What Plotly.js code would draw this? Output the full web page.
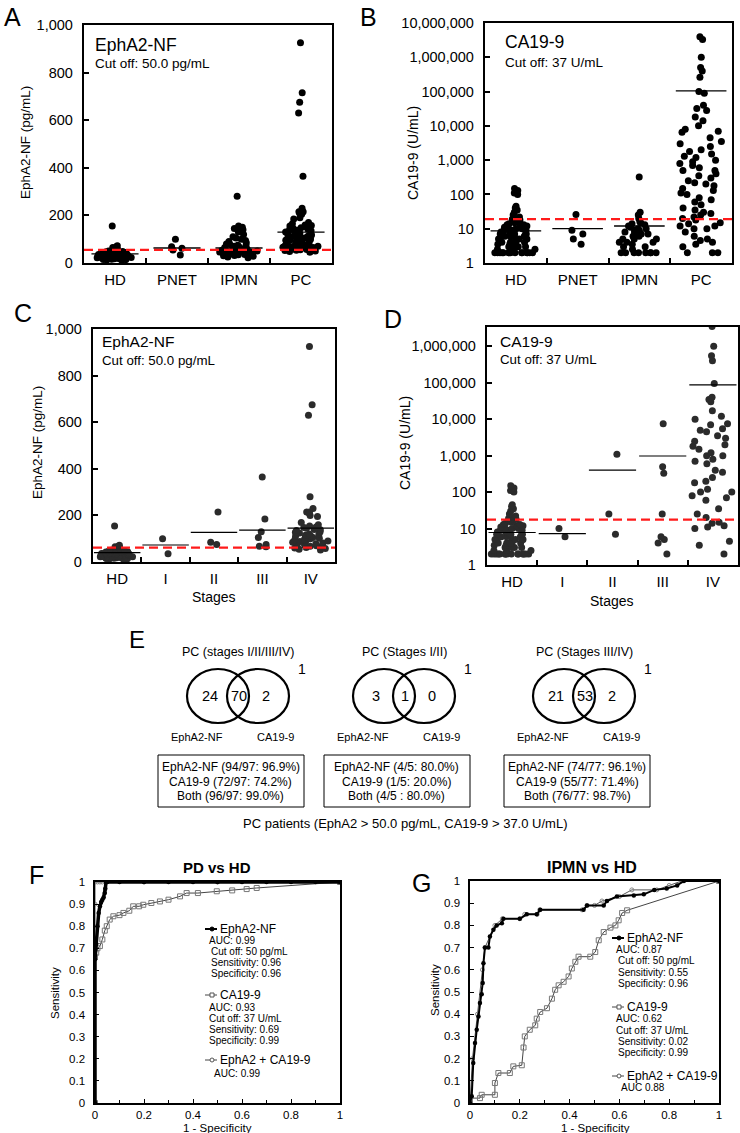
<!DOCTYPE html>
<html><head><meta charset="utf-8">
<script src="https://cdn.plot.ly/plotly-3.0.1.min.js"></script>
<style>body{margin:0;padding:0;background:#fff}#chart{width:740px;height:1133px}</style>
</head><body><div id="chart"></div>
<script>
// ---------------- DATA ----------------
const groupsAB = ['HD', 'PNET', 'IPMN', 'PC'];
const stagesCD = ['HD', 'I', 'II', 'III', 'IV'];

// EphA2-NF (pg/mL)
const ephHD = [155, 72, 68, 65, 60, 58, 55, 52, 50, 48, 47, 45, 44, 43, 42, 41, 40, 40, 39, 38, 38, 37, 36, 36, 35, 35, 34, 34, 33, 33, 32, 32, 31, 31, 30, 30, 30, 29, 29, 28, 28, 27, 27, 26, 26, 25, 25, 24, 24, 23, 23, 22, 22, 21, 21, 20, 20, 19, 18, 18, 17, 16, 15, 14, 13, 12];
const ephPNET = [100, 68, 62, 55, 34];
const ephIPMN = [280, 155, 150, 145, 140, 130, 120, 110, 105, 100, 95, 90, 85, 80, 78, 75, 72, 70, 68, 65, 62, 60, 58, 56, 55, 54, 52, 50, 48, 46, 45, 44, 42, 40, 38, 36, 35, 33, 32, 30, 28, 25, 22];
const ephPC = [925, 715, 675, 630, 365, 230, 215, 215, 210, 205, 190, 185, 170, 165, 160, 158, 155, 150, 148, 145, 142, 140, 138, 135, 132, 130, 128, 125, 122, 120, 118, 115, 112, 110, 108, 105, 102, 100, 98, 96, 95, 92, 90, 88, 86, 85, 82, 80, 78, 76, 75, 73, 72, 70, 68, 66, 65, 63, 62, 60, 58, 57, 56, 55, 54, 52, 50, 48, 45];
const ephStageI = [100, 35];
const ephStageII = [215, 85, 75];
const ephStageIII = [365, 185, 130, 105, 75, 68, 65];
const ephStageIV = [925, 675, 630, 280, 230, 215, 215, 210, 200, 195, 170, 160, 155, 150, 148, 145, 140, 138, 135, 130, 128, 125, 120, 118, 115, 112, 110, 108, 105, 102, 100, 98, 95, 92, 90, 88, 85, 82, 80, 78, 75, 72, 70, 68, 65, 62, 60, 58, 55, 52];

// CA19-9 (U/mL)
const caHD = [150, 130, 110, 100, 45, 40, 35, 30, 25, 22, 20, 19, 18, 17, 16, 15, 14, 13, 13, 12, 12, 11, 11, 10, 10, 10, 9, 9, 9, 8, 8, 8, 7, 7, 7, 7, 6, 6, 6, 6, 5, 5, 5, 5, 5, 4, 4, 4, 4, 4, 3.5, 3.5, 3, 3, 3, 3, 2.5, 2.5, 2.5, 2, 2, 2, 2, 2, 2, 2, 2, 2, 2, 2, 2, 2, 2, 2];
const caPNET = [26, 9, 7, 5, 3.5];
const caIPMN = [320, 30, 25, 20, 16, 15, 14, 13, 12, 11, 10, 10, 9, 9, 8, 8, 7, 7, 6, 6, 5, 5, 5, 4, 4, 4, 3.5, 3, 3, 2.5, 2, 2, 2, 2, 2, 2, 2, 2];
const caPC = [4000000, 3300000, 1000000, 500000, 400000, 260000, 100000, 90000, 40000, 32000, 28000, 18000, 14000, 10000, 8000, 7000, 6500, 4500, 3500, 3000, 2500, 2000, 1800, 1500, 1300, 1200, 1000, 900, 800, 700, 600, 500, 500, 400, 350, 300, 250, 220, 200, 180, 150, 130, 110, 100, 80, 70, 60, 50, 40, 35, 30, 28, 25, 22, 20, 18, 15, 14, 12, 12, 10, 10, 8, 6, 5, 4.5, 4, 3.5, 3, 2, 2, 2];
const caStageI = [10, 6];
const caStageII = [1100, 25, 7];
const caStageIII = [7500, 500, 330, 25, 6, 5, 4, 2];
const caStageIV = [3500000, 1000000, 550000, 400000, 95000, 40000, 35000, 30000, 17000, 12000, 10000, 7500, 7000, 5500, 5000, 4500, 3500, 3000, 2500, 2000, 1800, 1500, 1200, 1000, 1000, 800, 700, 600, 400, 350, 250, 200, 180, 120, 100, 100, 80, 70, 60, 35, 25, 20, 15, 14, 12, 11, 10, 4.5, 3.5, 2];

// medians and cut-off lines as drawn
const medianA = [38, 63, 63, 130];
const medianB = [8.7, 10, 12, 105000];
const medianC = [40, 73, 127, 137, 145];
const medianD = [7.8, 7.3, 400, 980, 88000];
const cutA = 55, cutB = 19, cutC = 62, cutD = 17.5;

// ROC curves: PD vs HD
const fEphX = [0, 0, 0.005, 0.01, 0.015, 0.02, 0.025, 0.03, 0.035, 0.04, 0.042, 0.045, 0.05, 0.1, 0.2, 0.3, 0.4, 0.5, 0.6, 0.7, 0.8, 0.9, 1];
const fEphY = [0, 0.65, 0.72, 0.8, 0.86, 0.89, 0.91, 0.92, 0.93, 0.95, 0.97, 1, 1, 1, 1, 1, 1, 1, 1, 1, 1, 1, 1];
const fCaX = [0, 0, 0.005, 0.01, 0.02, 0.03, 0.04, 0.048, 0.06, 0.075, 0.1, 0.116, 0.14, 0.156, 0.18, 0.197, 0.23, 0.265, 0.3, 0.347, 0.374, 0.42, 0.497, 0.56, 0.619, 0.66, 1];
const fCaY = [0, 0.66, 0.68, 0.7, 0.71, 0.74, 0.78, 0.8, 0.83, 0.845, 0.85, 0.86, 0.87, 0.89, 0.89, 0.897, 0.905, 0.912, 0.92, 0.935, 0.95, 0.95, 0.958, 0.962, 0.968, 0.973, 1];
const fBothX = [0, 0, 0, 0.01, 0.02, 0.03, 0.2, 0.5, 1];
const fBothY = [0, 0.9, 1, 1, 1, 1, 1, 1, 1];

// ROC curves: IPMN vs HD
const gEphX = [0, 0.007, 0.013, 0.02, 0.027, 0.034, 0.04, 0.047, 0.051, 0.054, 0.06, 0.074, 0.08, 0.094, 0.107, 0.128, 0.134, 0.2, 0.228, 0.268, 0.282, 0.456, 0.47, 0.537, 0.55, 0.59, 0.658, 0.698, 0.74, 0.79, 0.832, 0.859, 1];
const gEphY = [0, 0.03, 0.18, 0.27, 0.33, 0.39, 0.45, 0.49, 0.54, 0.63, 0.7, 0.7, 0.75, 0.78, 0.8, 0.81, 0.83, 0.83, 0.85, 0.85, 0.87, 0.87, 0.89, 0.89, 0.91, 0.93, 0.935, 0.94, 0.96, 0.966, 0.98, 1, 1];
const gCaX = [0, 0, 0.04, 0.047, 0.1, 0.1, 0.114, 0.16, 0.174, 0.208, 0.215, 0.22, 0.24, 0.262, 0.268, 0.282, 0.309, 0.329, 0.342, 0.356, 0.376, 0.396, 0.409, 0.423, 0.436, 0.483, 0.503, 0.517, 0.537, 0.564, 0.584, 0.597, 0.611, 0.631, 1];
const gCaY = [0, 0.022, 0.022, 0.037, 0.037, 0.09, 0.135, 0.135, 0.165, 0.17, 0.25, 0.3, 0.33, 0.35, 0.38, 0.41, 0.427, 0.47, 0.51, 0.53, 0.546, 0.57, 0.606, 0.636, 0.659, 0.659, 0.68, 0.733, 0.77, 0.79, 0.8, 0.823, 0.856, 0.868, 1];
const gBothX = [0, 0.01, 0.03, 0.05, 0.06, 0.1, 0.13, 0.2, 0.22, 0.27, 0.28, 0.45, 0.47, 0.5, 0.53, 0.6, 0.65, 0.75, 0.8, 0.85, 1];
const gBothY = [0, 0.2, 0.4, 0.6, 0.7, 0.8, 0.83, 0.83, 0.85, 0.85, 0.87, 0.87, 0.89, 0.89, 0.91, 0.93, 0.96, 0.96, 0.98, 1, 1];

// Venn diagrams (E)
const vennTitles = ['PC (stages I/II/III/IV)', 'PC (Stages I/II)', 'PC (Stages III/IV)'];
const vennEphOnly = [24, 3, 21];
const vennBoth = [70, 1, 53];
const vennCaOnly = [2, 0, 2];
const vennNeither = [1, 1, 1];
const vennBoxLines = [
  ['EphA2-NF (94/97: 96.9%)', 'CA19-9 (72/97: 74.2%)', 'Both (96/97: 99.0%)'],
  ['EphA2-NF (4/5: 80.0%)', 'CA19-9 (1/5: 20.0%)', 'Both (4/5 : 80.0%)'],
  ['EphA2-NF (74/77: 96.1%)', 'CA19-9 (55/77: 71.4%)', 'Both (76/77: 98.7%)']
];

// ---------------- LAYOUT HELPERS ----------------
const W = 740, H = 1133;
const FONT = 'Liberation Sans, Arial, Helvetica, sans-serif';
const PX = p => p / W;
const PY = p => 1 - p / H;
const xdom = (l, r) => [l / W, r / W];
const ydom = (t, b) => [1 - b / H, 1 - t / H];

const traces = [];
const shapes = [];
const annotations = [];

function ann(text, x, y, size, o) {
  o = o || {};
  annotations.push(Object.assign({
    text: text, x: PX(x), y: PY(y), xref: 'paper', yref: 'paper',
    xanchor: 'center', yanchor: 'middle', showarrow: false,
    font: {family: FONT, size: size, color: '#000'}
  }, o));
}

function swarm(vals, idx, xa, ya, width, color) {
  const w = width * Math.min(1, 0.2 + vals.length / 45);
  traces.push({
    type: 'box', x0: idx, y: vals, xaxis: xa, yaxis: ya,
    boxpoints: 'all', jitter: 1, pointpos: 0, width: w,
    fillcolor: 'rgba(0,0,0,0)', line: {width: 0, color: 'rgba(0,0,0,0)'},
    marker: {color: color, size: 7, line: {width: 0}},
    hoverinfo: 'skip', showlegend: false
  });
}

function medians(meds, half, xa, ya, w) {
  const xs = [], ys = [];
  meds.forEach((m, i) => { xs.push(i - half, i + half, null); ys.push(m, m, null); });
  traces.push({type: 'scatter', mode: 'lines', x: xs, y: ys, xaxis: xa, yaxis: ya,
    line: {color: '#000', width: w}, hoverinfo: 'skip', showlegend: false});
}

function cutoff(val, n, xa, ya) {
  traces.push({type: 'scatter', mode: 'lines', x: [-0.5, n - 0.5], y: [val, val], xaxis: xa, yaxis: ya,
    line: {color: '#ff1a1a', width: 2.3, dash: '9px,5px'}, hoverinfo: 'skip', showlegend: false});
}

function catAxis(dom, anchor, cats, lw) {
  const n = cats.length;
  const bounds = [];
  for (let i = 0; i < n - 1; i++) bounds.push(i + 0.5);
  return {
    domain: dom, anchor: anchor, type: 'linear', range: [-0.5, n - 0.5],
    tickmode: 'array', tickvals: cats.map((c, i) => i), ticktext: cats,
    ticks: 'inside', ticklen: 0, tickfont: {family: FONT, size: 15, color: '#000'},
    ticklabelstandoff: 2,
    minor: {tickmode: 'array', tickvals: bounds, ticks: 'inside', ticklen: 5, tickwidth: 2, tickcolor: '#000'},
    showline: true, mirror: true, linecolor: '#000', linewidth: lw,
    showgrid: false, zeroline: false, fixedrange: true
  };
}

function linYAxis(dom, anchor) {
  return {
    domain: dom, anchor: anchor, range: [0, 1000],
    tickmode: 'array', tickvals: [0, 200, 400, 600, 800, 1000], tickformat: ',',
    ticks: 'inside', ticklen: 5, tickwidth: 2, tickcolor: '#000',
    tickfont: {family: FONT, size: 14.5, color: '#000'}, ticklabelstandoff: 6,
    showline: true, mirror: true, linecolor: '#000', linewidth: 2.2,
    showgrid: false, zeroline: false, fixedrange: true
  };
}

function logYAxis(dom, anchor, top, maxExp) {
  const vals = [];
  for (let e = 0; e <= maxExp; e++) vals.push(Math.pow(10, e));
  return {
    domain: dom, anchor: anchor, type: 'log', range: [0, top],
    tickmode: 'array', tickvals: vals, ticktext: vals.map(v => v.toLocaleString('en-US')),
    ticks: 'inside', ticklen: 5, tickwidth: 2, tickcolor: '#000',
    tickfont: {family: FONT, size: 14.5, color: '#000'}, ticklabelstandoff: 6,
    showline: true, mirror: true, linecolor: '#000', linewidth: 2.2,
    showgrid: false, zeroline: false, fixedrange: true
  };
}

function rocAxes(xdomain, ydomain, xa, ya) {
  return [{
    domain: xdomain, anchor: ya, range: [0, 1], tickmode: 'linear', tick0: 0, dtick: 0.2,
    ticks: 'inside', ticklen: 4, tickwidth: 1, tickcolor: '#000',
    minor: {dtick: 0.1, ticks: 'inside', ticklen: 3, tickwidth: 1, tickcolor: '#000'},
    tickfont: {family: FONT, size: 11.5, color: '#000'}, ticklabelstandoff: 1,
    showline: true, mirror: true, linecolor: '#000', linewidth: 1.6,
    showgrid: false, zeroline: false, fixedrange: true
  }, {
    domain: ydomain, anchor: xa, range: [0, 1], tickmode: 'linear', tick0: 0, dtick: 0.1,
    ticks: 'inside', ticklen: 4, tickwidth: 1, tickcolor: '#000',
    tickfont: {family: FONT, size: 11.5, color: '#000'}, ticklabelstandoff: 6,
    showline: true, mirror: true, linecolor: '#000', linewidth: 1.6,
    showgrid: false, zeroline: false, fixedrange: true
  }];
}

// ---------------- PANEL A ----------------
[ephHD, ephPNET, ephIPMN, ephPC].forEach((v, i) => swarm(v, i, 'x', 'y', 0.66, '#000'));
medians(medianA, 0.38, 'x', 'y', 1.3);
cutoff(cutA, 4, 'x', 'y');

// ---------------- PANEL B ----------------
[caHD, caPNET, caIPMN, caPC].forEach((v, i) => swarm(v, i, 'x2', 'y2', 0.7, '#000'));
medians(medianB, 0.41, 'x2', 'y2', 1.3);
cutoff(cutB, 4, 'x2', 'y2');

// ---------------- PANEL C ----------------
[ephHD, ephStageI, ephStageII, ephStageIII, ephStageIV].forEach((v, i) => swarm(v, i, 'x3', 'y3', 0.8, '#2b2b2b'));
medians(medianC, 0.48, 'x3', 'y3', 1.2);
cutoff(cutC, 5, 'x3', 'y3');

// ---------------- PANEL D ----------------
[caHD, caStageI, caStageII, caStageIII, caStageIV].forEach((v, i) => swarm(v, i, 'x4', 'y4', 0.85, '#2b2b2b'));
medians(medianD, 0.47, 'x4', 'y4', 1.2);
cutoff(cutD, 5, 'x4', 'y4');

// ---------------- PANEL F / G ----------------
function rocTraces(xa, ya, ex, ey, cx, cy, bx, by, ephW) {
  traces.push({type: 'scatter', mode: 'lines+markers', x: cx, y: cy, xaxis: xa, yaxis: ya,
    line: {color: '#444', width: 1}, marker: {symbol: 'square-open', size: 5, color: '#777', line: {width: 1}},
    hoverinfo: 'skip', showlegend: false});
  traces.push({type: 'scatter', mode: 'lines+markers', x: bx, y: by, xaxis: xa, yaxis: ya,
    line: {color: '#555', width: 1}, marker: {symbol: 'circle-open', size: 4, color: '#888', line: {width: 1}},
    hoverinfo: 'skip', showlegend: false});
  traces.push({type: 'scatter', mode: 'lines+markers', x: ex, y: ey, xaxis: xa, yaxis: ya,
    line: {color: '#000', width: ephW}, marker: {symbol: 'circle', size: 4.5, color: '#000'},
    hoverinfo: 'skip', showlegend: false});
}
rocTraces('x5', 'y5', fEphX, fEphY, fCaX, fCaY, fBothX, fBothY, 3.5);
rocTraces('x6', 'y6', gEphX, gEphY, gCaX, gCaY, gBothX, gBothY, 2);

// ---------------- AXES ----------------
const axA = catAxis(xdom(84, 332), 'y', groupsAB, 2.2);
const axB = catAxis(xdom(485, 732), 'y2', groupsAB, 2.2);
const axC = catAxis(xdom(93, 335), 'y3', stagesCD, 2.2);
const axD = catAxis(xdom(487, 738), 'y4', stagesCD, 2.2);
const [axF, ayF] = rocAxes(xdom(95, 340), ydom(882, 1103), 'x5', 'y5');
const [axG, ayG] = rocAxes(xdom(470, 719), ydom(881, 1103), 'x6', 'y6');

// ---------------- ANNOTATIONS ----------------
// panel letters
ann('A', 12, 17, 25); ann('B', 368, 17, 25); ann('C', 23, 313, 25); ann('D', 393, 319, 25);
ann('E', 137, 639, 24); ann('F', 36, 875, 25); ann('G', 421, 883, 25);
// inner titles
ann('EphA2-NF', 93, 45, 17.5, {xanchor: 'left'});
ann('Cut off: 50.0 pg/mL', 93, 64, 13.5, {xanchor: 'left'});
ann('CA19-9', 503, 42, 17.5, {xanchor: 'left'});
ann('Cut off: 37 U/mL', 503, 62, 13.5, {xanchor: 'left'});
ann('EphA2-NF', 100, 342, 15.5, {xanchor: 'left'});
ann('Cut off: 50.0 pg/mL', 100, 360, 13.3, {xanchor: 'left'});
ann('CA19-9', 498, 342, 15.5, {xanchor: 'left'});
ann('Cut off: 37 U/mL', 498, 359, 13.3, {xanchor: 'left'});
// axis titles
ann('EphA2-NF (pg/mL)', 26, 143, 13.5, {textangle: -90});
ann('CA19-9 (U/mL)', 413, 153, 14, {textangle: -90});
ann('EphA2-NF (pg/mL)', 37, 443, 13.5, {textangle: -90});
ann('CA19-9 (U/mL)', 405, 443, 14, {textangle: -90});
ann('Stages', 214, 597, 14);
ann('Stages', 612, 601, 14);
ann('Sensitivity', 55, 993, 11.5, {textangle: -90});
ann('Sensitivity', 435, 990, 11.5, {textangle: -90});
ann('1 - Specificity', 217, 1128, 11.5);
ann('1 - Specificity', 595, 1128, 11.5);
ann('<b>PD vs HD</b>', 217, 867, 15);
ann('<b>IPMN vs HD</b>', 592, 867, 16);

// ROC legends
function rocLegend(x0, rows) {
  rows.forEach(r => {
    if (r.glyph) {
      shapes.push({type: 'line', xref: 'paper', yref: 'paper', x0: PX(x0), x1: PX(x0 + 12), y0: PY(r.y), y1: PY(r.y),
        line: {color: r.glyph === 'eph' ? '#000' : '#444', width: r.glyph === 'eph' ? 2 : 1}});
      const c = x0 + 7;
      if (r.glyph === 'eph') {
        shapes.push({type: 'circle', xref: 'paper', yref: 'paper', x0: PX(c - 2), x1: PX(c + 2), y0: PY(r.y - 2), y1: PY(r.y + 2),
          fillcolor: '#000', line: {color: '#000', width: 1}});
      } else if (r.glyph === 'ca') {
        shapes.push({type: 'rect', xref: 'paper', yref: 'paper', x0: PX(c - 2), x1: PX(c + 2), y0: PY(r.y - 2), y1: PY(r.y + 2),
          fillcolor: '#fff', line: {color: '#555', width: 1}});
      } else {
        shapes.push({type: 'circle', xref: 'paper', yref: 'paper', x0: PX(c - 2), x1: PX(c + 2), y0: PY(r.y - 2), y1: PY(r.y + 2),
          fillcolor: '#fff', line: {color: '#555', width: 1}});
      }
      ann(r.t, x0 + 13, r.y, 12, {xanchor: 'left'});
    } else {
      ann(r.t, x0 + r.dx, r.y, 10, {xanchor: 'left'});
    }
  });
}
rocLegend(205, [
  {glyph: 'eph', t: 'EphA2-NF', y: 929},
  {t: 'AUC: 0.99', dx: 2, y: 940}, {t: 'Cut off: 50 pg/mL', dx: 4, y: 951},
  {t: 'Sensitivity: 0.96', dx: 4, y: 962}, {t: 'Specificity: 0.96', dx: 4, y: 973},
  {glyph: 'ca', t: 'CA19-9', y: 995},
  {t: 'AUC: 0.93', dx: 2, y: 1007}, {t: 'Cut off: 37 U/mL', dx: 2, y: 1018},
  {t: 'Sensitivity: 0.69', dx: 2, y: 1029}, {t: 'Specificity: 0.99', dx: 2, y: 1040},
  {glyph: 'both', t: 'EphA2 + CA19-9', y: 1060},
  {t: 'AUC: 0.99', dx: 7, y: 1073}
]);
rocLegend(612, [
  {glyph: 'eph', t: 'EphA2-NF', y: 938},
  {t: 'AUC: 0.87', dx: 2, y: 949}, {t: 'Cut off: 50 pg/mL', dx: 4, y: 960},
  {t: 'Sensitivity: 0.55', dx: 4, y: 972}, {t: 'Specificity: 0.96', dx: 4, y: 983},
  {glyph: 'ca', t: 'CA19-9', y: 1007},
  {t: 'AUC: 0.62', dx: 2, y: 1018}, {t: 'Cut off: 37 U/mL', dx: 2, y: 1030},
  {t: 'Sensitivity: 0.02', dx: 4, y: 1041}, {t: 'Specificity: 0.99', dx: 4, y: 1052},
  {glyph: 'both', t: 'EphA2 + CA19-9', y: 1076},
  {t: 'AUC 0.88', dx: 7, y: 1087}
]);

// ---------------- VENN (E) ----------------
const vennCenters = [238, 404, 584];
const vennCy = 696, rx = 31, ry = 27, off = 20;
vennCenters.forEach((cx, k) => {
  [cx - off, cx + off].forEach(c => shapes.push({
    type: 'circle', xref: 'paper', yref: 'paper',
    x0: PX(c - rx), x1: PX(c + rx), y0: PY(vennCy + ry), y1: PY(vennCy - ry),
    line: {color: '#000', width: 2.2}, fillcolor: 'rgba(0,0,0,0)'
  }));
  ann(vennTitles[k], cx, 652, 12.5);
  ann(String(vennEphOnly[k]), cx - 28, vennCy, 14.5);
  ann(String(vennBoth[k]), cx + 1, vennCy, 14.5);
  ann(String(vennCaOnly[k]), cx + 28, vennCy, 14.5);
  ann(String(vennNeither[k]), cx + 64, 669, 14);
  ann('EphA2-NF', cx - 41, 737, 11);
  ann('CA19-9', cx + 37, 737, 11);
  const bx = cx - 7;
  shapes.push({type: 'rect', xref: 'paper', yref: 'paper', x0: PX(bx - 73), x1: PX(bx + 73),
    y0: PY(807), y1: PY(755), line: {color: '#000', width: 1}});
  vennBoxLines[k].forEach((t, j) => ann(t, bx, 767 + j * 14.5, 12));
});
ann('PC patients (EphA2 &gt; 50.0 pg/mL, CA19-9 &gt; 37.0 U/mL)', 405, 823, 13);

const layout = {
  width: W, height: H, margin: {l: 0, r: 0, t: 0, b: 0},
  paper_bgcolor: '#fff', plot_bgcolor: 'rgba(0,0,0,0)', showlegend: false,
  font: {family: FONT, color: '#000'},
  xaxis: axA, yaxis: linYAxis(ydom(25, 263), 'x'),
  xaxis2: axB, yaxis2: logYAxis(ydom(23, 263), 'x2', 7, 7),
  xaxis3: axC, yaxis3: linYAxis(ydom(329, 562), 'x3'),
  xaxis4: axD, yaxis4: logYAxis(ydom(327, 565), 'x4', 6.53, 6),
  xaxis5: axF, yaxis5: ayF, xaxis6: axG, yaxis6: ayG,
  shapes: shapes, annotations: annotations
};

Plotly.newPlot('chart', traces, layout, {staticPlot: true, displayModeBar: false});
</script></body></html>
